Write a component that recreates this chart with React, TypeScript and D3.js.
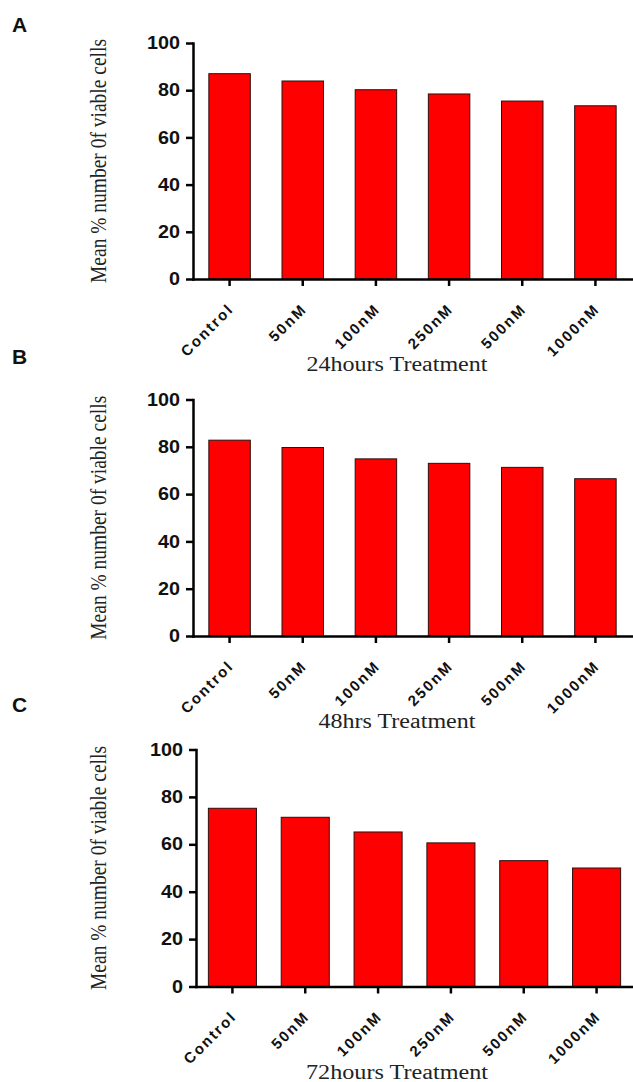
import React, { useRef, useEffect } from 'react'
import * as d3 from 'd3'

// data
const categories = ['Control', '50nM', '100nM', '250nM', '500nM', '1000nM']
const viable24h = [87.0, 83.9, 80.2, 78.4, 75.4, 73.4]
const viable48h = [82.8, 79.7, 74.9, 73.0, 71.3, 66.5]
const viable72h = [75.2, 71.4, 65.2, 60.6, 53.1, 50.0]
const yTicks = [0, 20, 40, 60, 80, 100]
const panelLetters = ['A', 'B', 'C']
const treatmentTitles = ['24hours Treatment', '48hrs Treatment', '72hours Treatment']
const yAxisLabel = 'Mean % number 0f viable cells'

// where each panel sits on the page
const layouts = [
	{ top: 43, bottom: 279, left: 193, right: 632, padIn: 0.433, padOut: 0.2165, letterY: 32, titleLen: 181 },
	{ top: 399.5, bottom: 636, left: 193, right: 632, padIn: 0.433, padOut: 0.2165, letterY: 364, titleLen: 157 },
	{ top: 749.5, bottom: 986.5, left: 196, right: 633, padIn: 0.34, padOut: 0.17, letterY: 712, titleLen: 182 },
]

const sans = 'Liberation Sans, Arial, sans-serif'
const serif = 'Liberation Serif, Times New Roman, serif'

const App = () => {
	const svgRef = useRef<SVGSVGElement>(null)

	useEffect(() => {
		const svg = d3.select(svgRef.current)
		svg.selectAll('*').remove()

		const series = [viable24h, viable48h, viable72h]

		series.forEach((values, i) => {
			const L = layouts[i]
			const g = svg.append('g')

			const x = d3
				.scaleBand()
				.domain(categories)
				.range([L.left, L.right])
				.paddingInner(L.padIn)
				.paddingOuter(L.padOut)

			const y = d3.scaleLinear().domain([0, 100]).range([L.bottom, L.top])

			// bars
			g.selectAll('.bar')
				.data(values)
				.enter()
				.append('rect')
				.attr('class', 'bar')
				.attr('x', (d, j) => x(categories[j]))
				.attr('y', d => y(d))
				.attr('width', x.bandwidth())
				.attr('height', d => y(0) - y(d))
				.attr('fill', '#ff0000')
				.attr('stroke', '#2a1010')
				.attr('stroke-width', 1)

			// y axis
			const yAxis = g
				.append('g')
				.attr('transform', `translate(${L.left},0)`)
				.call(d3.axisLeft(y).tickValues(yTicks).tickSize(7).tickSizeOuter(0).tickPadding(6))
			yAxis.select('.domain').attr('stroke-width', 2.5).attr('stroke-linecap', 'square')
			yAxis.selectAll('line').attr('stroke-width', 2.5)
			yAxis
				.selectAll('text')
				.attr('font-family', sans)
				.attr('font-weight', 'bold')
				.attr('font-size', 17.5)
				.attr('fill', '#111')
				.attr('textLength', d => String(d).length * 11)
				.attr('lengthAdjust', 'spacingAndGlyphs')

			// x axis
			const xAxis = g
				.append('g')
				.attr('transform', `translate(0,${L.bottom})`)
				.call(d3.axisBottom(x).tickSize(7).tickSizeOuter(0))
			xAxis.select('.domain').attr('stroke-width', 2.5).attr('stroke-linecap', 'square')
			xAxis.selectAll('line').attr('stroke-width', 2.5)
			xAxis
				.selectAll('text')
				.attr('x', 0)
				.attr('y', 0)
				.attr('dy', 0)
				.attr('transform', 'translate(5,31) rotate(-45)')
				.attr('text-anchor', 'end')
				.attr('font-family', sans)
				.attr('font-weight', 'bold')
				.attr('font-size', 15)
				.attr('letter-spacing', 2)
				.attr('fill', '#111')

			// y label
			g.append('text')
				.attr('transform', `translate(106,${(L.top + L.bottom) / 2}) scale(1.2,1) rotate(-90)`)
				.attr('text-anchor', 'middle')
				.attr('font-family', serif)
				.attr('font-size', 19.5)
				.attr('fill', '#222')
				.text(yAxisLabel)

			// x title
			g.append('text')
				.attr('x', 397)
				.attr('y', L.bottom + 92)
				.attr('text-anchor', 'middle')
				.attr('font-family', serif)
				.attr('font-size', 20)
				.attr('fill', '#222')
				.attr('textLength', L.titleLen)
				.attr('lengthAdjust', 'spacingAndGlyphs')
				.text(treatmentTitles[i])

			// panel letter
			g.append('text')
				.attr('x', 12)
				.attr('y', L.letterY)
				.attr('font-family', sans)
				.attr('font-weight', 'bold')
				.attr('font-size', 21)
				.attr('fill', '#111')
				.text(panelLetters[i])
		})
	}, [])

	return (
		<svg
			ref={svgRef}
			width={633}
			height={1082}
			style={{ position: 'absolute', left: 0, top: 0, background: '#fff' }}
		></svg>
	)
}

export default App
